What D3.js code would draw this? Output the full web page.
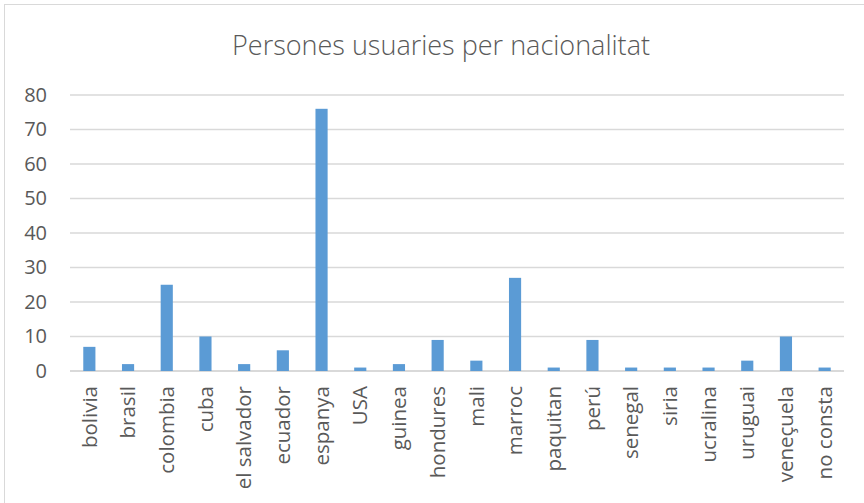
<!DOCTYPE html>
<html>
<head>
<meta charset="utf-8">
<script src="https://cdn.jsdelivr.net/npm/d3@7"></script>
<style>
  body { margin: 0; background: #fff; }
  svg { display: block; font-family: "Open Sans", sans-serif; }
</style>
</head>
<body>
<svg width="864" height="503"></svg>
<script>
// chart data
const categories = ['bolivia', 'brasil', 'colombia', 'cuba', 'el salvador', 'ecuador', 'espanya', 'USA',
  'guinea', 'hondures', 'mali', 'marroc', 'paquitan', 'perú', 'senegal', 'siria', 'ucralina',
  'uruguai', 'veneçuela', 'no consta'];
const values = [7, 2, 25, 10, 2, 6, 76, 1, 2, 9, 3, 27, 1, 9, 1, 1, 1, 3, 10, 1];
const yTicks = [0, 10, 20, 30, 40, 50, 60, 70, 80];
const title = 'Persones usuaries per nacionalitat';

const svg = d3.select('svg');
const margin = { left: 70, right: 20, top: 95, bottom: 132 };
const width = 864 - margin.left - margin.right;
const height = 503 - margin.top - margin.bottom;

// chart frame
svg.append('rect')
  .attr('x', 4.5).attr('y', 4.5)
  .attr('width', 870).attr('height', 510)
  .attr('fill', 'none')
  .attr('stroke', '#d9d9d9');

svg.append('text')
  .attr('x', 441).attr('y', 55)
  .attr('text-anchor', 'middle')
  .attr('font-size', 27)
  .attr('font-weight', 300)
  .attr('fill', '#595959')
  .text(title);

const g = svg.append('g').attr('transform', `translate(${margin.left},${margin.top})`);

const x = d3.scaleBand()
  .domain(categories)
  .range([0, width])
  .paddingInner(0.686)
  .paddingOuter(0.343);

const y = d3.scaleLinear()
  .domain([0, 80])
  .range([height, 0]);

// gridlines
g.selectAll('.grid')
  .data(yTicks)
  .join('line')
  .attr('class', 'grid')
  .attr('x1', 0).attr('x2', width)
  .attr('y1', (d) => y(d)).attr('y2', (d) => y(d))
  .attr('stroke', '#d9d9d9')
  .attr('stroke-width', (d) => d === 0 ? 2 : 1.5);

g.selectAll('.bar')
  .data(values)
  .join('rect')
  .attr('class', 'bar')
  .attr('x', (d, i) => x(categories[i]))
  .attr('y', (d) => y(d))
  .attr('width', x.bandwidth())
  .attr('height', (d) => height - y(d))
  .attr('fill', '#5b9bd5');

// y axis labels
const yAxis = g.append('g')
  .call(d3.axisLeft(y).tickValues(yTicks).tickSize(0).tickPadding(23));
yAxis.select('.domain').remove();
yAxis.selectAll('text')
  .attr('font-size', 20)
  .attr('font-family', '"Open Sans", sans-serif')
  .attr('fill', '#595959');

// x axis labels, rotated
const xAxis = g.append('g')
  .attr('transform', `translate(0,${height})`)
  .call(d3.axisBottom(x).tickSize(0).tickPadding(0));
xAxis.select('.domain').remove();
xAxis.selectAll('text')
  .attr('font-size', 20.5)
  .attr('font-family', '"Open Sans", sans-serif')
  .attr('fill', '#595959')
  .attr('text-anchor', 'end')
  .attr('dy', '0.35em')
  .attr('transform', 'translate(0,15) rotate(-90)')
  .attr('x', 0).attr('y', 0);
</script>
</body>
</html>
